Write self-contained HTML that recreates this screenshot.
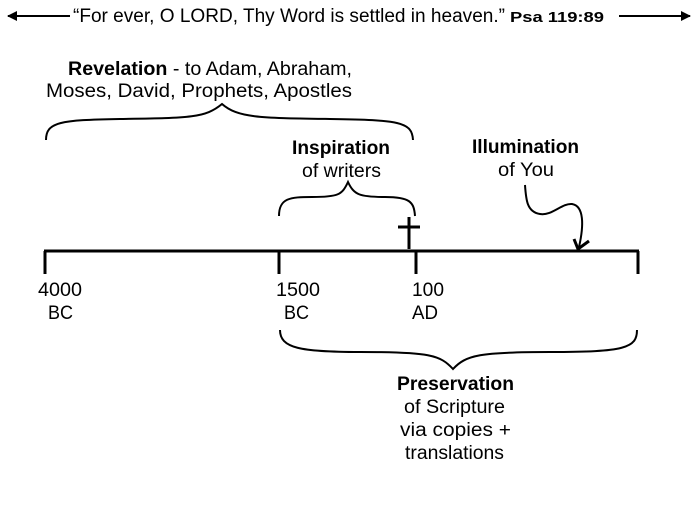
<!DOCTYPE html>
<html><head><meta charset="utf-8"><style>
html,body{margin:0;padding:0;background:#fff;}
svg{display:block;}
text{font-family:"Liberation Sans",Arial,sans-serif;fill:#000;}
</style></head><body>
<svg width="697" height="523" viewBox="0 0 697 523" xmlns="http://www.w3.org/2000/svg">
<defs>
<marker id="ah" markerWidth="10" markerHeight="10" refX="9" refY="5" orient="auto" markerUnits="userSpaceOnUse">
<path d="M0,0 L10,5 L0,10 Z" fill="#000"/></marker>
</defs>
<line x1="70" y1="16" x2="8" y2="16" stroke="#000" stroke-width="2" marker-end="url(#ah)"/>
<line x1="619" y1="16" x2="690" y2="16" stroke="#000" stroke-width="2" marker-end="url(#ah)"/>
<text x="73" y="22" font-size="19" textLength="432" lengthAdjust="spacingAndGlyphs">“For ever, O LORD, Thy Word is settled in heaven.”</text>
<text x="510" y="22" font-size="15" font-weight="bold" textLength="94" lengthAdjust="spacingAndGlyphs">Psa 119:89</text>

<text x="68" y="75" font-size="19" textLength="284" lengthAdjust="spacingAndGlyphs"><tspan font-weight="bold">Revelation</tspan> - to Adam, Abraham,</text>
<text x="46" y="97" font-size="19" textLength="306" lengthAdjust="spacingAndGlyphs">Moses, David, Prophets, Apostles</text>
<path d="M46,140 C46,122 60,120 120,119 C190,118 205,118 222,104 C238,118 260,118 330,119 C400,120 412,122 413,140" fill="none" stroke="#000" stroke-width="2"/>

<text x="292" y="154" font-size="19" font-weight="bold" textLength="98" lengthAdjust="spacingAndGlyphs">Inspiration</text>
<text x="302" y="177" font-size="19" textLength="79" lengthAdjust="spacingAndGlyphs">of writers</text>
<path d="M279,216 C279,198 290,197 312,197 C338,197 342,195 348,182 C354,195 360,197 385,197 C410,197 414,202 415,216" fill="none" stroke="#000" stroke-width="2"/>

<text x="472" y="153" font-size="19" font-weight="bold" textLength="107" lengthAdjust="spacingAndGlyphs">Illumination</text>
<text x="498" y="176" font-size="19" textLength="56" lengthAdjust="spacingAndGlyphs">of You</text>
<path d="M525,185 C526,200 527,212 540,214 C552,216 562,203 572,204 C584,206 584,225 579,247" fill="none" stroke="#000" stroke-width="2"/>
<path d="M574,239 L578,249 L589,241" fill="none" stroke="#000" stroke-width="3"/>

<line x1="409" y1="217" x2="409" y2="249" stroke="#000" stroke-width="3"/>
<line x1="398" y1="227" x2="420" y2="227" stroke="#000" stroke-width="3"/>

<line x1="44" y1="251" x2="639" y2="251" stroke="#000" stroke-width="3"/>
<line x1="45" y1="251" x2="45" y2="274" stroke="#000" stroke-width="3"/>
<line x1="279" y1="251" x2="279" y2="274" stroke="#000" stroke-width="3"/>
<line x1="416" y1="251" x2="416" y2="274" stroke="#000" stroke-width="3"/>
<line x1="638" y1="251" x2="638" y2="274" stroke="#000" stroke-width="3"/>

<text x="38" y="296" font-size="19" textLength="44" lengthAdjust="spacingAndGlyphs">4000</text>
<text x="48" y="319" font-size="19" textLength="25" lengthAdjust="spacingAndGlyphs">BC</text>
<text x="276" y="296" font-size="19" textLength="44" lengthAdjust="spacingAndGlyphs">1500</text>
<text x="284" y="319" font-size="19" textLength="25" lengthAdjust="spacingAndGlyphs">BC</text>
<text x="412" y="296" font-size="19" textLength="32" lengthAdjust="spacingAndGlyphs">100</text>
<text x="412" y="319" font-size="19" textLength="26" lengthAdjust="spacingAndGlyphs">AD</text>

<path d="M280,330 C280,348 300,352 360,352 C430,352 440,355 453,369 C466,355 480,352 550,352 C625,352 637,348 637,330" fill="none" stroke="#000" stroke-width="2"/>
<text x="397" y="390" font-size="19" font-weight="bold" textLength="117" lengthAdjust="spacingAndGlyphs">Preservation</text>
<text x="404" y="413" font-size="19" textLength="101" lengthAdjust="spacingAndGlyphs">of Scripture</text>
<text x="400" y="436" font-size="19" textLength="111" lengthAdjust="spacingAndGlyphs">via copies +</text>
<text x="405" y="459" font-size="19" textLength="99" lengthAdjust="spacingAndGlyphs">translations</text>
</svg>
</body></html>
